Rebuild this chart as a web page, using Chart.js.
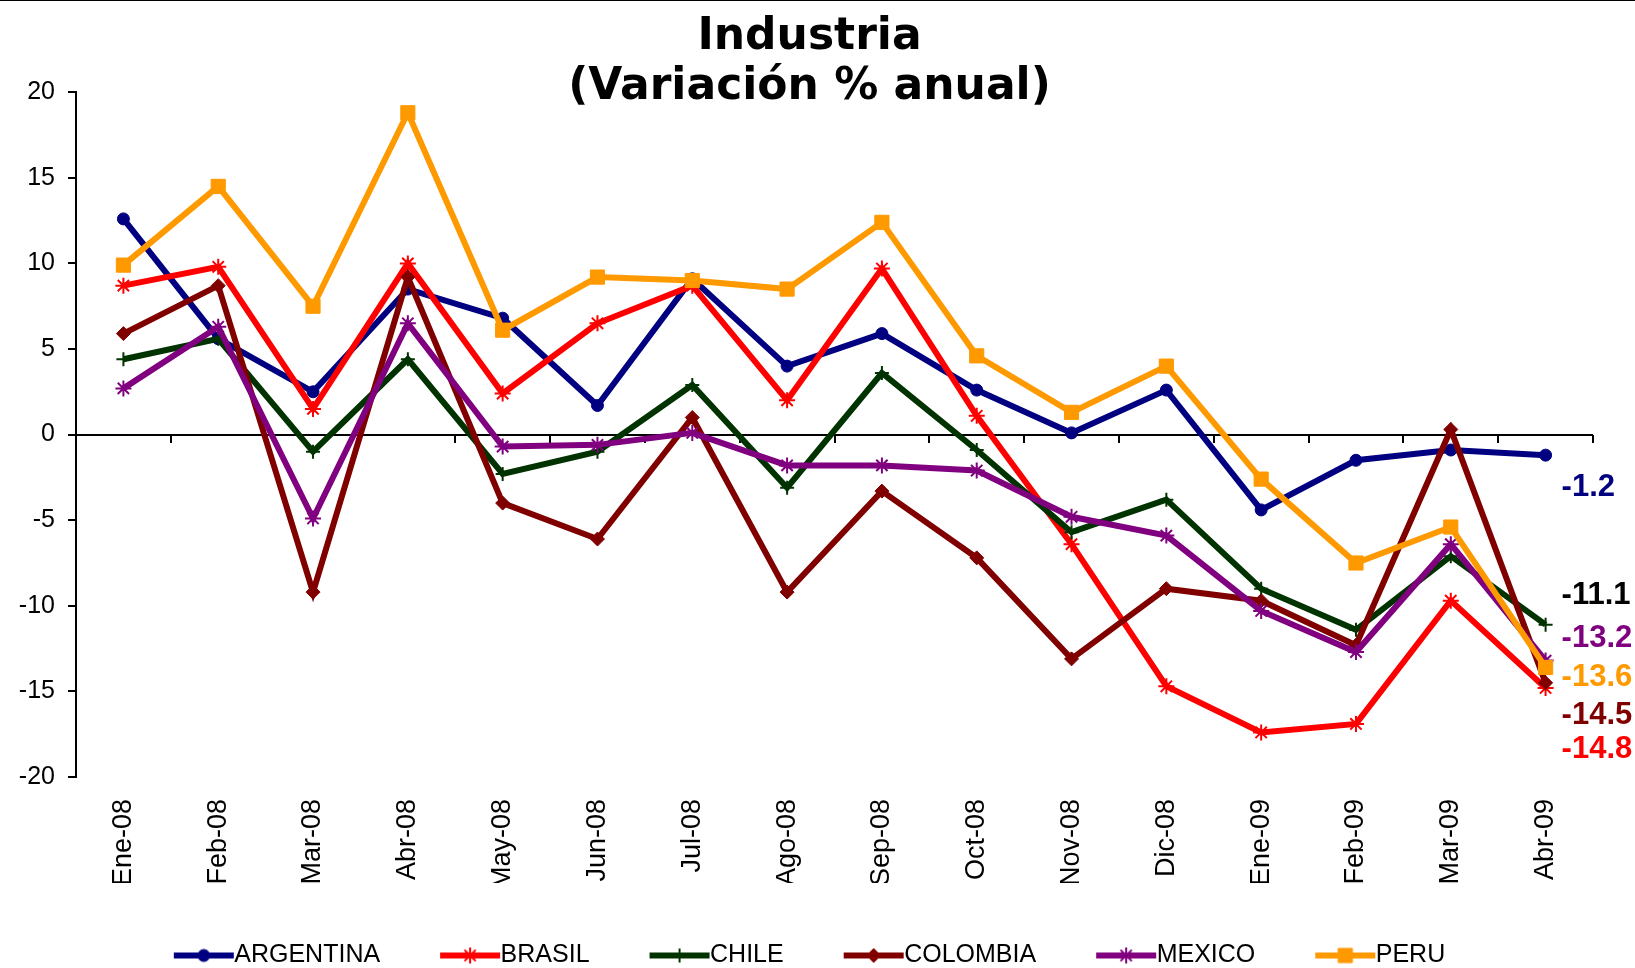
<!DOCTYPE html>
<html>
<head>
<meta charset="utf-8">
<script src="https://cdn.jsdelivr.net/npm/chart.js@4.4.1/dist/chart.umd.min.js"></script>
<style>
  html, body { margin: 0; padding: 0; background: #fff; overflow: hidden; }
  #wrap { position: relative; width: 1635px; height: 978px; }
  #topline { position: absolute; left: 0; top: 0; width: 1635px; border-top: 1px solid #000; }
</style>
</head>
<body>
<div id="wrap">
  <div id="topline"></div>
  <canvas id="chart" width="1635" height="978"></canvas>
</div>
<script>
// ===== DATA =====
const months = ['Ene-08','Feb-08','Mar-08','Abr-08','May-08','Jun-08','Jul-08','Ago-08','Sep-08','Oct-08','Nov-08','Dic-08','Ene-09','Feb-09','Mar-09','Abr-09']

const argentina = [12.6, 5.6, 2.5, 8.5, 6.8, 1.7, 9.1, 4.0, 5.9, 2.6, 0.1, 2.6, -4.4, -1.5, -0.9, -1.2]
const brasil    = [8.7, 9.8, 1.5, 10.0, 2.4, 6.5, 8.7, 2.0, 9.7, 1.1, -6.4, -14.7, -17.4, -16.9, -9.7, -14.8]
const chile     = [4.4, 5.6, -1.0, 4.4, -2.3, -1.0, 2.9, -3.1, 3.6, -0.9, -5.7, -3.8, -9.0, -11.4, -7.1, -11.1]
const colombia  = [5.9, 8.7, -9.2, 9.2, -4.0, -6.1, 1.0, -9.2, -3.3, -7.2, -13.1, -9.0, -9.7, -12.3, 0.3, -14.5]
const mexico    = [2.7, 6.3, -4.9, 6.5, -0.7, -0.6, 0.1, -1.8, -1.8, -2.1, -4.8, -5.9, -10.3, -12.7, -6.4, -13.2]
const peru      = [9.9, 14.5, 7.5, 18.8, 6.1, 9.2, 9.0, 8.5, 12.4, 4.6, 1.3, 4.0, -2.6, -7.5, -5.4, -13.6]

const yTicks = [20, 15, 10, 5, 0, -5, -10, -15, -20]

// end-of-line labels: which series, and where (in axis units) the text sits
const endLabelSeries = [0, 2, 4, 5, 3, 1]
const endLabelAt     = [-3.1, -9.4, -11.9, -14.2, -16.4, -18.4]
const endLabelColors = ['#000080', '#000000', '#800080', '#FF9900', '#800000', '#FF0000']

// ===== DATASETS =====
const series = [
  { label: 'ARGENTINA', data: argentina, color: '#000080', style: 'circle',  r: 6,  bw: 1 },
  { label: 'BRASIL',    data: brasil,    color: '#FF0000', style: 'star',    r: 8,  bw: 2 },
  { label: 'CHILE',     data: chile,     color: '#003300', style: 'cross',   r: 7,  bw: 2 },
  { label: 'COLOMBIA',  data: colombia,  color: '#800000', style: 'rectRot', r: 7,  bw: 1 },
  { label: 'MEXICO',    data: mexico,    color: '#800080', style: 'star',    r: 8,  bw: 2 },
  { label: 'PERU',      data: peru,      color: '#FF9900', style: 'rect',    r: 10, bw: 1 },
]

const datasets = series.map((s, i) => ({
  label: s.label,
  data: s.data,
  borderColor: s.color,
  backgroundColor: s.color,
  borderWidth: 6,
  tension: 0,
  pointStyle: s.style,
  pointRadius: s.r,
  pointHoverRadius: s.r,
  pointBackgroundColor: s.color,
  pointBorderColor: s.color,
  pointBorderWidth: s.bw,
  order: series.length - i   // last series drawn on top, like the original
}))

// legend sample: line running up to the text, marker in its middle
function legendIcon(s) {
  const c = document.createElement('canvas')
  c.width = 74; c.height = 22
  const g = c.getContext('2d')
  g.strokeStyle = s.color; g.lineWidth = 6
  g.beginPath(); g.moveTo(13, 11); g.lineTo(73, 11); g.stroke()
  g.fillStyle = s.color; g.lineWidth = s.bw
  if (Chart.helpers && Chart.helpers.drawPoint) {
    Chart.helpers.drawPoint(g, { pointStyle: s.style, radius: s.r, rotation: 0, borderWidth: s.bw }, 43, 11)
  } else {
    g.beginPath(); g.arc(43, 11, s.r, 0, Math.PI * 2); g.fill()
  }
  return c
}

// zero line with category tick marks (drawn under the series)
const zeroAxis = {
  id: 'zeroAxis',
  beforeDatasetsDraw(chart) {
    const { ctx, chartArea, scales: { x, y } } = chart
    const y0 = Math.round(y.getPixelForValue(0))
    const step = (chartArea.right - chartArea.left) / months.length
    ctx.save()
    ctx.strokeStyle = '#000'
    ctx.lineWidth = 2
    ctx.beginPath()
    ctx.moveTo(chartArea.left, y0); ctx.lineTo(chartArea.right, y0)
    for (let i = 0; i < months.length; i++) {
      const xx = Math.round(x.getPixelForValue(i) + step / 2)
      ctx.moveTo(xx, y0); ctx.lineTo(xx, y0 + 8)
    }
    ctx.stroke()
    ctx.restore()
  }
}

const endLabels = {
  id: 'endLabels',
  afterDatasetsDraw(chart) {
    const { ctx, scales: { x, y } } = chart
    const last = months.length - 1
    ctx.save()
    ctx.font = 'bold 31px "Liberation Sans", Arial, sans-serif'
    ctx.textAlign = 'left'
    ctx.textBaseline = 'middle'
    endLabelSeries.forEach((si, k) => {
      ctx.fillStyle = endLabelColors[k]
      ctx.fillText(series[si].data[last].toFixed(1), x.getPixelForValue(last) + 16, y.getPixelForValue(endLabelAt[k]))
    })
    ctx.restore()
  }
}

new Chart(document.getElementById('chart').getContext('2d'), {
  type: 'line',
  data: { labels: months, datasets },
  options: {
    responsive: false,
    animation: false,
    layout: { padding: { left: 13, right: 29, top: 0, bottom: 0 } },
    plugins: {
      title: {
        display: true,
        text: ['Industria', '(Variación % anual)'],
        color: '#000',
        font: { family: '"DejaVu Sans", Verdana, sans-serif', size: 44, weight: 'bold', lineHeight: 1.15 },
        padding: { top: 12, bottom: -21 }
      },
      legend: {
        position: 'bottom',
        labels: {
          color: '#000',
          font: { family: '"Liberation Sans", Arial, sans-serif', size: 25 },
          usePointStyle: true,
          pointStyleWidth: 48,
          padding: 60,
          sort: (a, b) => a.datasetIndex - b.datasetIndex,
          generateLabels: chart => Chart.defaults.plugins.legend.labels.generateLabels(chart).map(l => {
            l.pointStyle = legendIcon(series[l.datasetIndex])
            return l
          })
        }
      },
      tooltip: { enabled: false }
    },
    scales: {
      x: {
        offset: true,
        grid: { display: false, drawTicks: false },
        border: { display: false },
        ticks: {
          autoSkip: false, maxRotation: 90, minRotation: 90, padding: 22, color: '#000',
          font: { family: '"Liberation Sans", Arial, sans-serif', size: 27 }
        },
        afterFit: s => { s.height = 106 }
      },
      y: {
        min: -20, max: 20,
        afterBuildTicks: s => { s.ticks = yTicks.map(v => ({ value: v })) },
        grid: { drawOnChartArea: false, drawTicks: true, tickLength: 8, color: '#000', lineWidth: 2 },
        border: { display: true, color: '#000', width: 2 },
        ticks: {
          padding: 13, color: '#000',
          font: { family: '"Liberation Sans", Arial, sans-serif', size: 25 }
        },
        afterFit: s => { s.width = 63 }
      },
      // empty right-hand gutter so the plot ends where the original's does
      y2: {
        position: 'right',
        grid: { display: false },
        border: { display: false },
        ticks: { display: false },
        afterFit: s => { s.width = 13 }
      }
    }
  },
  plugins: [zeroAxis, endLabels]
})
</script>
</body>
</html>
